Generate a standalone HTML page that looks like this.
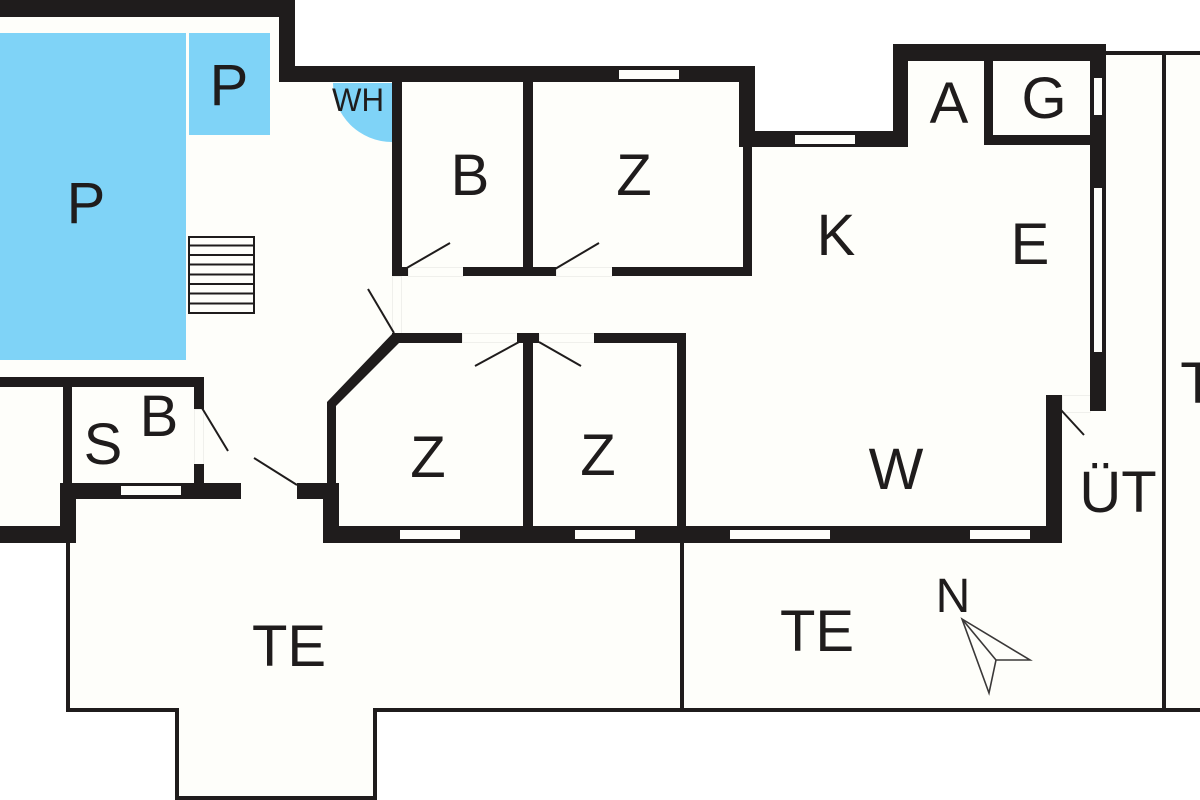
<!DOCTYPE html>
<html lang="de">
<head>
<meta charset="utf-8">
<title>Floor plan</title>
<style>
html,body{margin:0;padding:0;background:#fff;width:1200px;height:800px;overflow:hidden}
svg{display:block}
text{font-family:"Liberation Sans",sans-serif;fill:#1f1c1c;text-anchor:middle}
</style>
</head>
<body>
<svg width="1200" height="800" viewBox="0 0 1200 800" xmlns="http://www.w3.org/2000/svg">
<rect width="1200" height="800" fill="#fff"/>
<polygon fill="#fefefa" points="0,0 295,0 295,66 755,66 755,131 893,131 893,44 1106,44 1106,53 1200,53 1200,710 377,710 377,798 177,798 177,710 68,710 68,543 0,543"/>

<!-- blue areas -->
<g fill="#7fd3f7">
<rect x="0" y="33" width="186" height="327"/>
<rect x="189" y="33" width="81" height="102"/>
<path d="M333,83 H392 V142 A59,59 0 0 1 333,83 Z"/>
</g>

<!-- stairs -->
<g fill="none" stroke="#1f1c1c" stroke-width="2">
<rect x="189" y="237" width="65" height="76"/>
<path d="M188,245.500 H255 M188,255 H255 M188,264.500 H255 M188,274.500 H255 M188,284 H255 M188,293.500 H255 M188,303.500 H255"/>
</g>

<!-- faint door thresholds -->
<g fill="none" stroke="#f0f0ec" stroke-width="1">
<rect x="408.500" y="267.500" width="55" height="9"/>
<rect x="556.500" y="267.500" width="56" height="9"/>
<rect x="392.500" y="276.500" width="9" height="57"/>
<rect x="462.500" y="333.500" width="55" height="9"/>
<rect x="539.500" y="333.500" width="55" height="9"/>
<rect x="194.500" y="409.500" width="9" height="55"/>
<rect x="1062.500" y="395.500" width="28" height="17"/>
</g>

<!-- terrace thin lines -->
<g fill="#1f1c1c">
<rect x="1106" y="51" width="94" height="4"/>
<rect x="1162" y="52" width="4" height="658"/>
<rect x="66" y="540" width="4" height="172"/>
<rect x="66" y="708" width="113" height="4"/>
<rect x="373" y="708" width="827" height="4"/>
<rect x="680" y="540" width="4" height="170"/>
<rect x="175" y="708" width="4" height="92"/>
<rect x="373" y="708" width="4" height="92"/>
<rect x="175" y="796" width="202" height="4"/>
</g>

<!-- walls -->
<g fill="#1f1c1c">
<rect x="0" y="0" width="295" height="17"/>
<rect x="279" y="0" width="16" height="82"/>
<rect x="279" y="66" width="476" height="16"/>
<rect x="739" y="66" width="16" height="81"/>
<rect x="739" y="131" width="169" height="16"/>
<rect x="893" y="44" width="15" height="103"/>
<rect x="893" y="44" width="213" height="17"/>
<rect x="1090" y="44" width="16" height="367"/>
<rect x="984" y="61" width="9" height="84"/>
<rect x="984" y="135" width="106" height="10"/>

<rect x="392" y="82" width="10" height="194"/>
<rect x="392" y="267" width="16" height="9"/>
<rect x="463" y="267" width="93" height="9"/>
<rect x="612" y="267" width="140" height="9"/>
<rect x="523" y="82" width="10" height="190"/>
<rect x="743" y="82" width="9" height="194"/>

<rect x="392" y="333" width="70" height="10"/>
<rect x="517" y="333" width="22" height="10"/>
<rect x="523" y="333" width="10" height="195"/>
<rect x="594" y="333" width="92" height="10"/>
<rect x="677" y="333" width="9" height="195"/>
<polygon points="393,333 402,340 336,406 336,483 327,483 327,402"/>

<rect x="0" y="377" width="204" height="10"/>
<rect x="63" y="377" width="9" height="108"/>
<rect x="194" y="377" width="10" height="32"/>
<rect x="194" y="464" width="10" height="21"/>
<rect x="60" y="483" width="181" height="16"/>
<rect x="60" y="483" width="16" height="60"/>
<rect x="0" y="526" width="76" height="17"/>
<rect x="297" y="483" width="42" height="16"/>
<rect x="323" y="483" width="16" height="60"/>
<rect x="323" y="526" width="739" height="17"/>
<rect x="1046" y="395" width="16" height="148"/>
</g>

<!-- windows -->
<g fill="#fefefa">
<rect x="619" y="70" width="60" height="9"/>
<rect x="795" y="135" width="60" height="9"/>
<rect x="1094" y="78" width="8" height="37"/>
<rect x="1094" y="188" width="8" height="164"/>
<rect x="121" y="486" width="60" height="9"/>
<rect x="400" y="530" width="60" height="9"/>
<rect x="575" y="530" width="60" height="9"/>
<rect x="730" y="530" width="100" height="9"/>
<rect x="970" y="530" width="60" height="9"/>
</g>

<!-- door leaves -->
<g stroke="#1f1c1c" stroke-width="2" fill="none">
<path d="M405,269 L450,243"/>
<path d="M555,269 L599,243"/>
<path d="M394,333 L368,289"/>
<path d="M519,342 L475,366"/>
<path d="M539,342 L581,366"/>
<path d="M202,408 L228,451"/>
<path d="M297,485 L254,458"/>
<path d="M1061,410 L1084,435"/>
</g>

<!-- north arrow -->
<g stroke="#3a3838" stroke-width="1.600" fill="none" stroke-linejoin="miter">
<path d="M962,619 L1030,660 H996 L989,693 Z"/>
<path d="M962,619 L996,660"/>
</g>

<!-- labels -->
<text x="86" y="223" font-size="58">P</text>
<text x="229" y="105" font-size="58">P</text>
<text x="358" y="111" font-size="32" textLength="52" lengthAdjust="spacingAndGlyphs">WH</text>
<text x="470" y="195" font-size="58">B</text>
<text x="634" y="195" font-size="58">Z</text>
<text x="836" y="255" font-size="58">K</text>
<text x="949" y="123" font-size="58">A</text>
<text x="1044" y="118" font-size="58">G</text>
<text x="1030" y="264" font-size="58">E</text>
<text x="159" y="436" font-size="58">B</text>
<text x="103" y="464" font-size="58">S</text>
<text x="428" y="477" font-size="58">Z</text>
<text x="598" y="475" font-size="58">Z</text>
<text x="896" y="489" font-size="58">W</text>
<text x="1118" y="512" font-size="58">ÜT</text>
<text x="289" y="666" font-size="58">TE</text>
<text x="817" y="651" font-size="58">TE</text>
<text x="953" y="612" font-size="48">N</text>
<text x="1198" y="403" font-size="58">T</text>
</svg>
</body>
</html>
